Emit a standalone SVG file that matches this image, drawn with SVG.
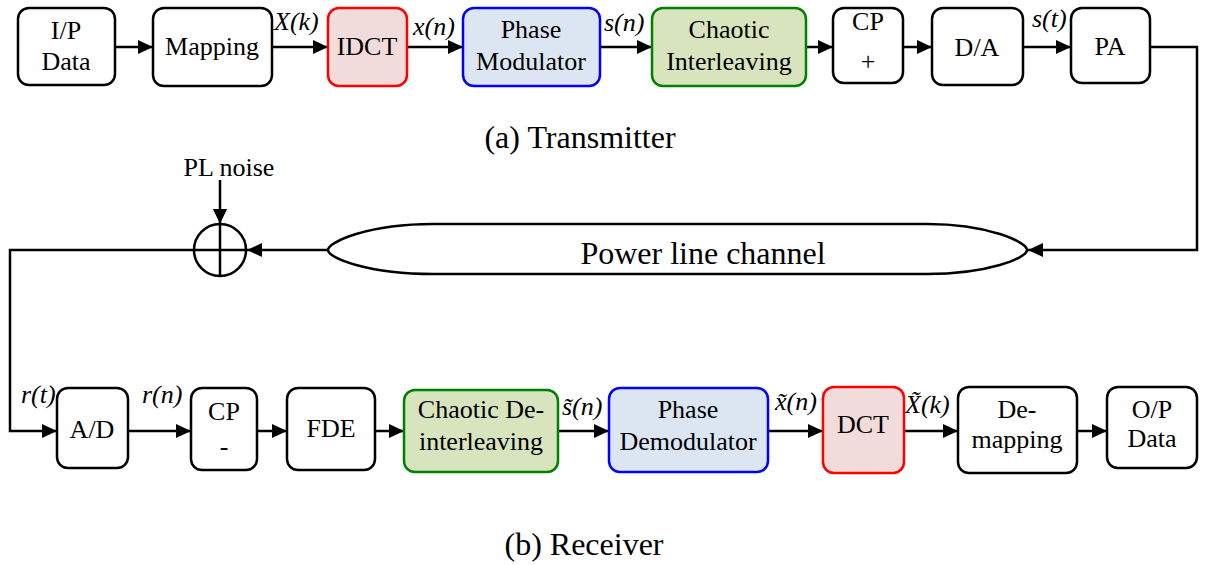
<svg xmlns="http://www.w3.org/2000/svg" width="1205" height="565" viewBox="0 0 1205 565">
<style>
.box{fill:#fff;stroke:#000;stroke-width:2.5}
.red{fill:#f2dcdb;stroke:#ff0000;stroke-width:2.5}
.blue{fill:#dce6f2;stroke:#0000ff;stroke-width:2.5}
.green{fill:#d7e4bd;stroke:#008000;stroke-width:2.5}
text{font-family:"Liberation Serif","Times New Roman",serif;fill:#000}
.t{font-size:26px;text-anchor:middle}
.lab{font-size:26px;font-style:italic}
.cap{font-size:32px;text-anchor:middle}
.ln{fill:none;stroke:#000;stroke-width:2.5}
</style>
<defs>
<marker id="ah" markerUnits="userSpaceOnUse" markerWidth="16" markerHeight="14" refX="15" refY="7" orient="auto">
<path d="M0,0 L15,7 L0,14 z" fill="#000"/>
</marker>
</defs>
<rect width="1205" height="565" fill="#fff"/>

<g id="connectors">
<line class="ln" x1="115" y1="47" x2="153" y2="47" marker-end="url(#ah)"/>
<line class="ln" x1="272" y1="47" x2="328" y2="47" marker-end="url(#ah)"/>
<line class="ln" x1="407" y1="47" x2="463" y2="47" marker-end="url(#ah)"/>
<line class="ln" x1="600" y1="47" x2="652" y2="47" marker-end="url(#ah)"/>
<line class="ln" x1="806" y1="47" x2="833" y2="47" marker-end="url(#ah)"/>
<line class="ln" x1="903" y1="47" x2="932" y2="47" marker-end="url(#ah)"/>
<line class="ln" x1="1023" y1="47" x2="1071" y2="47" marker-end="url(#ah)"/>
<polyline class="ln" points="1150,47 1197,47 1197,250 1028,250" marker-end="url(#ah)"/>
<line class="ln" x1="328" y1="250" x2="247" y2="250" marker-end="url(#ah)"/>
<line class="ln" x1="220" y1="180" x2="220" y2="224" marker-end="url(#ah)"/>
<polyline class="ln" points="194,250 10,250 10,431 57,431" marker-end="url(#ah)"/>
<line class="ln" x1="128" y1="431" x2="191" y2="431" marker-end="url(#ah)"/>
<line class="ln" x1="257" y1="431" x2="287" y2="431" marker-end="url(#ah)"/>
<line class="ln" x1="375" y1="431" x2="404" y2="431" marker-end="url(#ah)"/>
<line class="ln" x1="558" y1="431" x2="609" y2="431" marker-end="url(#ah)"/>
<line class="ln" x1="768" y1="431" x2="823" y2="431" marker-end="url(#ah)"/>
<line class="ln" x1="904" y1="431" x2="958" y2="431" marker-end="url(#ah)"/>
<line class="ln" x1="1077" y1="431" x2="1107" y2="431" marker-end="url(#ah)"/>
</g>

<g id="labels">
<text class="lab" x="274" y="30">X(k)</text>
<text class="lab" x="413" y="35">x(n)</text>
<text class="lab" x="604" y="31">s(n)</text>
<text class="lab" x="1032" y="27">s(t)</text>
<text class="lab" x="21" y="403">r(t)</text>
<text class="lab" x="142" y="403">r(n)</text>
<text class="lab" x="562" y="415">s̃(n)</text>
<text class="lab" x="775" y="410">x̃(n)</text>
<text class="lab" x="905" y="413">X̃(k)</text>
</g>

<g id="n-ip"><rect class="box" x="18" y="8" width="97" height="77" rx="11"/>
<text class="t" x="66" y="39">I/P</text><text class="t" x="66" y="70">Data</text></g>
<g id="n-mapping"><rect class="box" x="153" y="8" width="119" height="78" rx="11"/>
<text class="t" x="212" y="55">Mapping</text></g>
<g id="n-idct"><rect class="red" x="328" y="8" width="79" height="78" rx="11"/>
<text class="t" x="367" y="55">IDCT</text></g>
<g id="n-pm"><rect class="blue" x="463" y="8" width="137" height="78" rx="11"/>
<text class="t" x="531" y="38">Phase</text><text class="t" x="531" y="70">Modulator</text></g>
<g id="n-ci"><rect class="green" x="652" y="8" width="154" height="78" rx="11"/>
<text class="t" x="729" y="38">Chaotic</text><text class="t" x="729" y="70">Interleaving</text></g>
<g id="n-cpplus"><rect class="box" x="833" y="8" width="70" height="75" rx="11"/>
<text class="t" x="868" y="30">CP</text><text class="t" x="868" y="70">+</text></g>
<g id="n-da"><rect class="box" x="932" y="8" width="91" height="77" rx="11"/>
<text class="t" x="977" y="56">D/A</text></g>
<g id="n-pa"><rect class="box" x="1071" y="8" width="79" height="75" rx="11"/>
<text class="t" x="1110" y="55">PA</text></g>

<text class="cap" x="580" y="148">(a) Transmitter</text>

<g id="n-channel">
<path class="ln" d="M433,224 L927,224 C988,224 1027,242 1027,250 C1027,258 988,274 927,274 L433,274 C368,274 328,258 328,250 C328,242 368,224 433,224 Z" fill="#fff"/>
<text x="703" y="264" style="font-size:32px;text-anchor:middle">Power line channel</text>
</g>

<g id="n-sum">
<circle cx="220" cy="250" r="26" fill="#fff" stroke="#000" stroke-width="2.5"/>
<line class="ln" x1="194" y1="250" x2="246" y2="250"/>
<line class="ln" x1="220" y1="224" x2="220" y2="276"/>
</g>
<text class="t" x="229" y="176">PL noise</text>

<g id="n-ad"><rect class="box" x="57" y="388" width="71" height="80" rx="11"/>
<text class="t" x="92" y="438">A/D</text></g>
<g id="n-cpminus"><rect class="box" x="191" y="388" width="66" height="82" rx="11"/>
<text class="t" x="224" y="420">CP</text><text class="t" x="224" y="455">-</text></g>
<g id="n-fde"><rect class="box" x="287" y="388" width="88" height="82" rx="11"/>
<text class="t" x="331" y="437">FDE</text></g>
<g id="n-cdi"><rect class="green" x="404" y="390" width="154" height="82" rx="11"/>
<text class="t" x="481" y="418">Chaotic De-</text><text class="t" x="481" y="450">interleaving</text></g>
<g id="n-pd"><rect class="blue" x="609" y="388" width="159" height="84" rx="11"/>
<text class="t" x="688" y="418">Phase</text><text class="t" x="688" y="450">Demodulator</text></g>
<g id="n-dct"><rect class="red" x="823" y="387" width="81" height="86" rx="11"/>
<text class="t" x="863" y="433">DCT</text></g>
<g id="n-demap"><rect class="box" x="958" y="387" width="119" height="86" rx="11"/>
<text class="t" x="1017" y="418">De-</text><text class="t" x="1017" y="448">mapping</text></g>
<g id="n-op"><rect class="box" x="1107" y="387" width="90" height="81" rx="11"/>
<text class="t" x="1152" y="418">O/P</text><text class="t" x="1152" y="447">Data</text></g>

<text class="cap" x="584" y="555">(b) Receiver</text>
</svg>
